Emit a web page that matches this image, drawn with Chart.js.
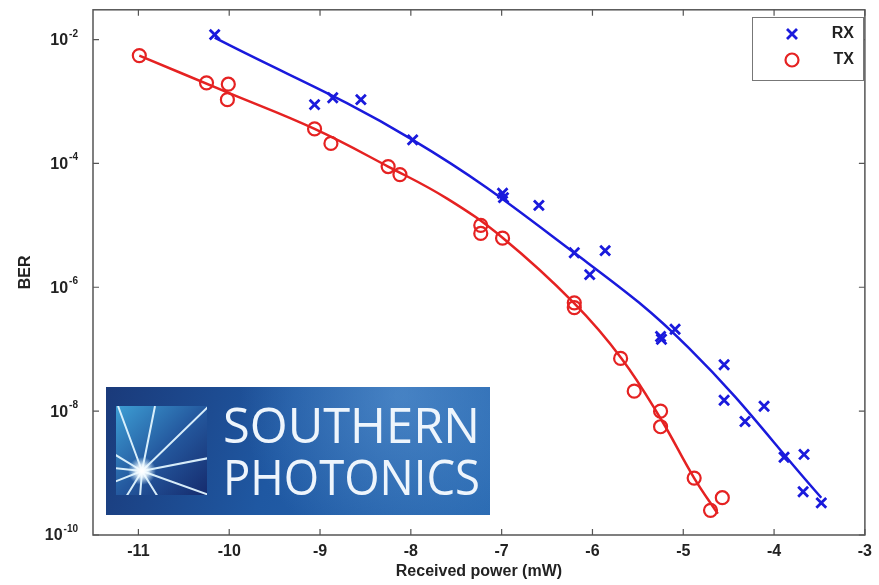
<!DOCTYPE html>
<html>
<head>
<meta charset="utf-8">
<script src="https://cdn.jsdelivr.net/npm/chart.js@4"></script>
<style>
  html, body { margin: 0; padding: 0; background: #fff; }
  #wrap { width: 879px; height: 585px; }
</style>
</head>
<body>
<div id="wrap"><canvas id="berChart" width="879" height="585"></canvas></div>
<script>
// measured points (received power in mW, BER)
const rxPower = [-10.16, -9.06, -8.86, -8.55, -7.98, -6.99, -6.98, -6.59, -6.20, -6.03, -5.86, -5.25, -5.24, -5.09, -4.55, -4.55, -4.32, -4.11, -3.89, -3.67, -3.68, -3.48];
const rxBer = [1.2e-2, 8.9e-4, 1.15e-3, 1.07e-3, 2.4e-4, 3.3e-5, 2.8e-5, 2.1e-5, 3.6e-6, 1.6e-6, 3.9e-6, 1.6e-7, 1.45e-7, 2.1e-7, 5.6e-8, 1.5e-8, 6.8e-9, 1.2e-8, 1.8e-9, 2.0e-9, 5.0e-10, 3.3e-10];

const txPower = [-10.99, -10.25, -10.01, -10.02, -9.06, -8.88, -8.25, -8.12, -7.23, -7.23, -6.99, -6.20, -6.20, -5.69, -5.54, -5.25, -5.25, -4.88, -4.57, -4.70];
const txBer = [5.5e-3, 2.0e-3, 1.9e-3, 1.07e-3, 3.6e-4, 2.1e-4, 8.9e-5, 6.6e-5, 1.0e-5, 7.4e-6, 6.2e-6, 5.6e-7, 4.7e-7, 7.1e-8, 2.1e-8, 1.0e-8, 5.6e-9, 8.3e-10, 4.0e-10, 2.5e-10];

// fitted curves
const rxFitPower = [-10.16, -7.98, -6.20, -4.94, -3.48];
const rxFitBer = [1.07e-2, 2.4e-4, 3.6e-6, 1.05e-7, 4.0e-10];

const txFitPower = [-10.99, -10.02, -9.06, -8.25, -7.60, -6.99, -6.20, -5.68, -5.25, -4.88, -4.62];
const txFitBer = [5.5e-3, 1.4e-3, 3.6e-4, 8.9e-5, 2.7e-5, 6.3e-6, 5.5e-7, 7.1e-8, 7.6e-9, 8.3e-10, 2.2e-10];

const xTicks = [-11, -10, -9, -8, -7, -6, -5, -4, -3];
const yTickExps = [-2, -4, -6, -8, -10];

const seriesNames = ['RX', 'TX'];
const logoLines = ['SOUTHERN', 'PHOTONICS'];

const BLUE = '#1a1adc';
const RED = '#e52222';
const FONT = "'Liberation Sans', Arial, sans-serif";

const toXY = (xs, ys) => xs.map((x, i) => ({ x: x, y: ys[i] }));

// inward tick marks, frame, y labels with exponents, legend and logo
const decor = {
    id: 'decor',
    afterDraw(chart) {
        const { ctx, chartArea: a, scales } = chart;
        const xs = scales.x, ys = scales.y;
        ctx.save();

        ctx.strokeStyle = '#555';
        ctx.lineWidth = 1.5;
        ctx.strokeRect(a.left, a.top, a.right - a.left, a.bottom - a.top);

        ctx.lineWidth = 1.2;
        ctx.beginPath();
        xTicks.forEach(v => {
            const px = xs.getPixelForValue(v);
            ctx.moveTo(px, a.bottom); ctx.lineTo(px, a.bottom - 6);
            ctx.moveTo(px, a.top); ctx.lineTo(px, a.top + 6);
        });
        yTickExps.forEach(e => {
            const py = ys.getPixelForValue(Math.pow(10, e));
            ctx.moveTo(a.left, py); ctx.lineTo(a.left + 6, py);
            ctx.moveTo(a.right, py); ctx.lineTo(a.right - 6, py);
        });
        ctx.stroke();

        // y tick labels: 10 with superscript exponent
        ctx.fillStyle = '#222';
        yTickExps.forEach(e => {
            const py = ys.getPixelForValue(Math.pow(10, e));
            ctx.font = 'bold 10px ' + FONT;
            ctx.textAlign = 'left';
            ctx.textBaseline = 'alphabetic';
            const exp = String(e);
            const ew = ctx.measureText(exp).width;
            const right = a.left - 16;
            ctx.fillText(exp, right - ew + 1, py - 3);
            ctx.font = 'bold 16px ' + FONT;
            ctx.textAlign = 'right';
            ctx.textBaseline = 'middle';
            ctx.fillText('10', right - ew, py + 1);
        });

        // legend
        const lx = 752, ly = 17, lw = 111, lh = 63;
        ctx.fillStyle = '#fff';
        ctx.fillRect(lx, ly, lw, lh);
        ctx.strokeStyle = '#777';
        ctx.lineWidth = 1;
        ctx.strokeRect(lx + 0.5, ly + 0.5, lw, lh);
        ctx.font = 'bold 16px ' + FONT;
        ctx.textAlign = 'right';
        ctx.textBaseline = 'middle';
        ctx.fillStyle = '#222';
        ctx.fillText(seriesNames[0], 854, 34);
        ctx.fillText(seriesNames[1], 854, 60);
        ctx.strokeStyle = BLUE;
        ctx.lineWidth = 2.8;
        ctx.beginPath();
        ctx.moveTo(787, 29); ctx.lineTo(797, 39);
        ctx.moveTo(797, 29); ctx.lineTo(787, 39);
        ctx.stroke();
        ctx.strokeStyle = RED;
        ctx.lineWidth = 2.2;
        ctx.beginPath();
        ctx.arc(792, 60, 6.5, 0, Math.PI * 2);
        ctx.stroke();

        // logo
        const bx = 106, by = 387, bw = 384, bh = 128;
        let g = ctx.createLinearGradient(bx, by, bx + bw, by + bh);
        g.addColorStop(0, '#1a3a7a');
        g.addColorStop(0.45, '#1f58a2');
        g.addColorStop(1, '#2a6ab2');
        ctx.fillStyle = g;
        ctx.fillRect(bx, by, bw, bh);
        const rg = ctx.createRadialGradient(400, 395, 5, 400, 395, 160);
        rg.addColorStop(0, 'rgba(120,180,235,0.4)');
        rg.addColorStop(1, 'rgba(120,180,235,0)');
        ctx.fillStyle = rg;
        ctx.fillRect(bx, by, bw, bh);

        const sx = 116, sy = 406, ss = 91;
        g = ctx.createLinearGradient(sx, sy, sx + ss, sy + ss);
        g.addColorStop(0, '#3d9ed4');
        g.addColorStop(0.5, '#24589e');
        g.addColorStop(1, '#152a6c');
        ctx.fillStyle = g;
        ctx.fillRect(sx, sy, ss, ss - 2);

        ctx.save();
        ctx.beginPath();
        ctx.rect(sx, sy, ss, ss - 2);
        ctx.clip();
        const cx = 142, cy = 471;
        const rays = [[118, 406], [155, 406], [209, 406], [209, 458], [209, 495], [158, 497], [140, 497], [126, 497], [114, 482], [114, 468], [114, 454]];
        ctx.strokeStyle = 'rgba(225,245,255,0.95)';
        ctx.lineWidth = 2;
        ctx.beginPath();
        rays.forEach(p => { ctx.moveTo(cx, cy); ctx.lineTo(p[0], p[1]); });
        ctx.stroke();
        const glow = ctx.createRadialGradient(cx, cy, 1, cx, cy, 14);
        glow.addColorStop(0, 'rgba(255,255,255,1)');
        glow.addColorStop(0.4, 'rgba(240,250,255,0.85)');
        glow.addColorStop(1, 'rgba(200,235,255,0)');
        ctx.fillStyle = glow;
        ctx.beginPath();
        ctx.arc(cx, cy, 14, 0, Math.PI * 2);
        ctx.fill();
        ctx.restore();

        ctx.fillStyle = '#eef5fc';
        ctx.font = "49px 'Open Sans', 'DejaVu Sans', sans-serif";
        ctx.textAlign = 'left';
        ctx.textBaseline = 'alphabetic';
        ctx.fillText(logoLines[0], 223, 443, 257);
        ctx.fillText(logoLines[1], 223, 495, 257);

        ctx.restore();
    }
};

new Chart(document.getElementById('berChart'), {
    type: 'scatter',
    data: {
        datasets: [
            {
                label: seriesNames[0],
                data: toXY(rxPower, rxBer),
                pointStyle: 'crossRot',
                pointRadius: 7,
                borderColor: BLUE,
                borderWidth: 2.8,
                showLine: false
            },
            {
                label: seriesNames[1],
                data: toXY(txPower, txBer),
                pointStyle: 'circle',
                pointRadius: 6.5,
                borderColor: RED,
                backgroundColor: 'rgba(0,0,0,0)',
                borderWidth: 2.2,
                showLine: false
            },
            {
                label: 'RX fit',
                data: toXY(rxFitPower, rxFitBer),
                showLine: true,
                borderColor: BLUE,
                borderWidth: 2.5,
                pointRadius: 0,
                tension: 0.4
            },
            {
                label: 'TX fit',
                data: toXY(txFitPower, txFitBer),
                showLine: true,
                borderColor: RED,
                borderWidth: 2.5,
                pointRadius: 0,
                tension: 0.4
            }
        ]
    },
    options: {
        responsive: false,
        animation: false,
        layout: { padding: { top: 9, right: 9, left: 0, bottom: 0 } },
        plugins: {
            legend: { display: false },
            tooltip: { enabled: false }
        },
        scales: {
            x: {
                type: 'linear',
                min: -11.5,
                max: -3,
                afterBuildTicks: s => { s.ticks = xTicks.map(v => ({ value: v })); },
                afterFit: s => { s.height = 50; },
                grid: { display: false, drawTicks: false },
                border: { display: false },
                ticks: {
                    color: '#222',
                    padding: 7,
                    maxRotation: 0,
                    font: { family: FONT, size: 16, weight: 'bold' }
                },
                title: {
                    display: true,
                    text: 'Received power (mW)',
                    color: '#222',
                    padding: { top: 0, bottom: 4 },
                    font: { family: FONT, size: 16, weight: 'bold' }
                }
            },
            y: {
                type: 'logarithmic',
                min: 1e-10,
                max: Math.pow(10, -1.52),
                afterBuildTicks: s => { s.ticks = yTickExps.map(e => ({ value: Math.pow(10, e) })); },
                afterFit: s => { s.width = 93; },
                grid: { display: false, drawTicks: false },
                border: { display: false },
                ticks: { display: false },
                title: {
                    display: true,
                    text: 'BER',
                    color: '#222',
                    padding: { top: 16, bottom: 0 },
                    font: { family: FONT, size: 16, weight: 'bold' }
                }
            }
        }
    },
    plugins: [decor]
});
</script>
</body>
</html>
